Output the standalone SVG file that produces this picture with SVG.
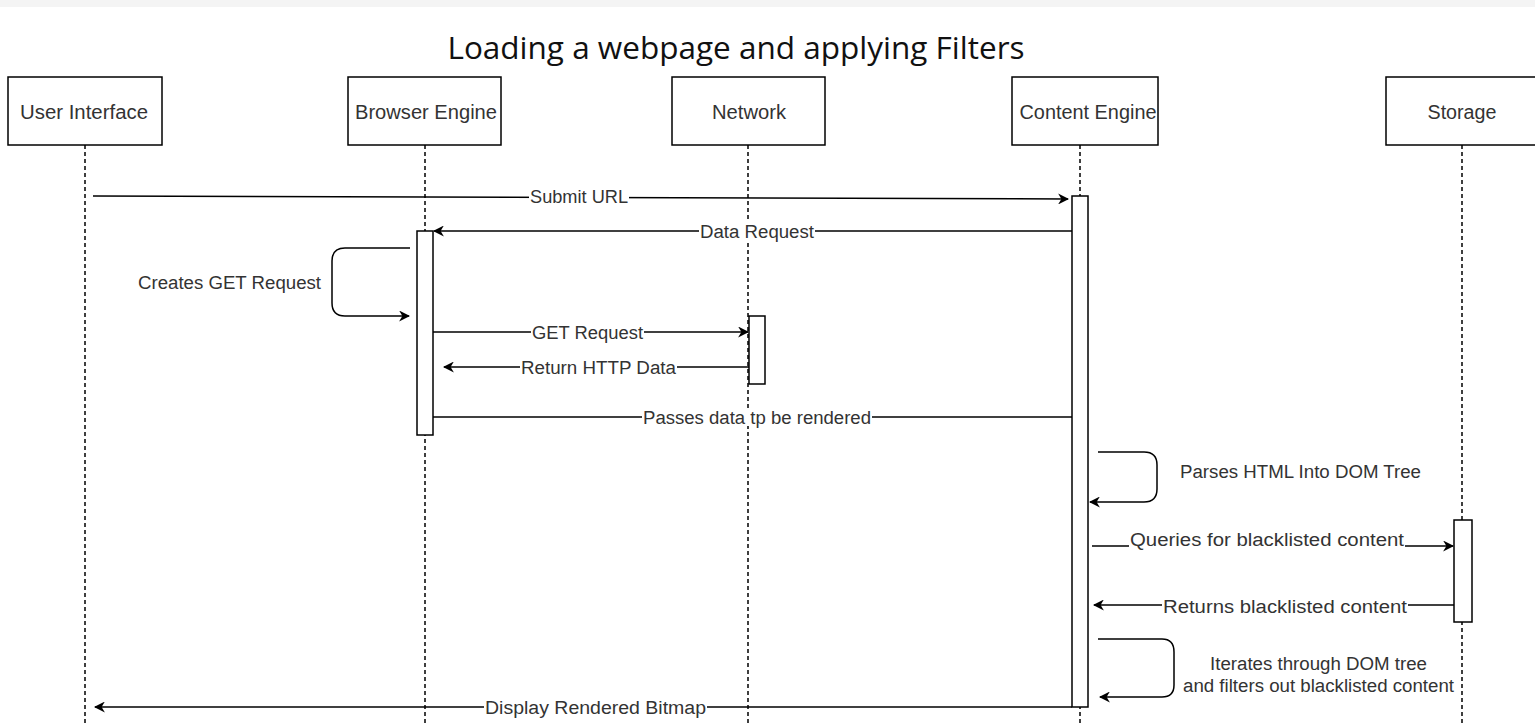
<svg xmlns="http://www.w3.org/2000/svg" width="1535" height="723" viewBox="0 0 1535 723">
<defs>
<style>
.box{fill:#fff;stroke:#000;stroke-width:1.5}
.act{fill:#fff;stroke:#000;stroke-width:1.5}
.life{stroke:#000;stroke-width:1.5;stroke-dasharray:4 3;fill:none}
.msg{stroke:#000;stroke-width:1.5;fill:none}
.lbl{font-family:"Liberation Sans",Arial,sans-serif;font-size:18px;fill:#333}
.hd{font-family:"Liberation Sans",Arial,sans-serif;font-size:20px;fill:#333;text-anchor:middle}
.bg{fill:#fff}
</style>
<marker id="ah" viewBox="0 0 10 10" refX="9" refY="5" markerWidth="11" markerHeight="11" markerUnits="userSpaceOnUse" orient="auto">
<path d="M0,0 L10,5 L0,10 L3,5 Z" fill="#000"/>
</marker>
</defs>
<rect width="1535" height="723" fill="#fff"/>
<rect width="1535" height="7" fill="#f4f4f4"/>
<text x="736" y="59" font-family="'Open Sans','Noto Sans',sans-serif" font-size="31.5" fill="#111" text-anchor="middle">Loading a webpage and applying Filters</text>

<g id="lifelines">
<line class="life" x1="85" y1="145" x2="85" y2="723"/>
<line class="life" x1="425" y1="145" x2="425" y2="723"/>
<line class="life" x1="748" y1="145" x2="748" y2="723"/>
<line class="life" x1="1080" y1="145" x2="1080" y2="723"/>
<line class="life" x1="1462" y1="145" x2="1462" y2="723"/>
</g>

<g id="ui"><rect class="box" x="8" y="77" width="154" height="68"/><text class="hd" x="84" y="119" textLength="128" lengthAdjust="spacingAndGlyphs">User Interface</text></g>
<g id="browser"><rect class="box" x="348" y="77" width="153" height="68"/><text class="hd" x="426" y="119" textLength="142" lengthAdjust="spacingAndGlyphs">Browser Engine</text></g>
<g id="network"><rect class="box" x="672" y="77" width="153" height="68"/><text class="hd" x="749" y="119" textLength="74" lengthAdjust="spacingAndGlyphs">Network</text></g>
<g id="content"><rect class="box" x="1012" y="77" width="146" height="68"/><text class="hd" x="1088" y="119" textLength="137" lengthAdjust="spacingAndGlyphs">Content Engine</text></g>
<g id="storage"><rect class="box" x="1386" y="77" width="152" height="68"/><text class="hd" x="1462" y="119" textLength="69" lengthAdjust="spacingAndGlyphs">Storage</text></g>

<g id="activations">
<rect class="act" x="417" y="231" width="16" height="204"/>
<rect class="act" x="749" y="316" width="16" height="68"/>
<rect class="act" x="1072" y="196" width="16" height="511"/>
<rect class="act" x="1454" y="520" width="18" height="102"/>
</g>

<g id="connectors">
<line class="msg" x1="93" y1="196" x2="1068" y2="199" marker-end="url(#ah)"/>
<line class="msg" x1="1072" y1="231" x2="434" y2="231" marker-end="url(#ah)"/>
<path class="msg" d="M410,248 H345 Q332,248 332,261 V303 Q332,316 345,316 H409" marker-end="url(#ah)"/>
<line class="msg" x1="433" y1="332" x2="748" y2="332" marker-end="url(#ah)"/>
<line class="msg" x1="749" y1="367" x2="444" y2="367" marker-end="url(#ah)"/>
<line class="msg" x1="433" y1="417" x2="1072" y2="417"/>
<path class="msg" d="M1098,452 H1144 Q1157,452 1157,465 V489 Q1157,502 1144,502 H1090" marker-end="url(#ah)"/>
<line class="msg" x1="1092" y1="546" x2="1453" y2="546" marker-end="url(#ah)"/>
<line class="msg" x1="1454" y1="605" x2="1094" y2="605" marker-end="url(#ah)"/>
<path class="msg" d="M1098,639 H1162 Q1174,639 1174,652 V685 Q1174,697 1162,697 H1100" marker-end="url(#ah)"/>
<line class="msg" x1="1072" y1="707" x2="95" y2="707" marker-end="url(#ah)"/>
</g>

<g id="labels">
<rect class="bg" x="529" y="188" width="100" height="18"/><text class="lbl" x="579" y="203" text-anchor="middle" textLength="98" lengthAdjust="spacingAndGlyphs">Submit URL</text>
<rect class="bg" x="699" y="222" width="116" height="18"/><text class="lbl" x="757" y="238" text-anchor="middle" textLength="114" lengthAdjust="spacingAndGlyphs">Data Request</text>
<text class="lbl" x="138" y="289" textLength="183" lengthAdjust="spacingAndGlyphs">Creates GET Request</text>
<rect class="bg" x="531" y="323" width="113" height="18"/><text class="lbl" x="587.5" y="339" text-anchor="middle" textLength="111" lengthAdjust="spacingAndGlyphs">GET Request</text>
<rect class="bg" x="520" y="358" width="157" height="18"/><text class="lbl" x="598.5" y="374" text-anchor="middle" textLength="155" lengthAdjust="spacingAndGlyphs">Return HTTP Data</text>
<rect class="bg" x="642" y="408" width="230" height="18"/><text class="lbl" x="757" y="424" text-anchor="middle" textLength="228" lengthAdjust="spacingAndGlyphs">Passes data tp be rendered</text>
<text class="lbl" x="1180" y="478" textLength="241" lengthAdjust="spacingAndGlyphs">Parses HTML Into DOM Tree</text>
<rect class="bg" x="1129" y="530" width="276" height="18"/><text class="lbl" x="1267" y="546" text-anchor="middle" textLength="274" lengthAdjust="spacingAndGlyphs">Queries for blacklisted content</text>
<rect class="bg" x="1162" y="597" width="246" height="18"/><text class="lbl" x="1285" y="613" text-anchor="middle" textLength="244" lengthAdjust="spacingAndGlyphs">Returns blacklisted content</text>
<text class="lbl" x="1318.5" y="670" text-anchor="middle" textLength="217" lengthAdjust="spacingAndGlyphs">Iterates through DOM tree</text>
<text class="lbl" x="1318.5" y="692" text-anchor="middle" textLength="271" lengthAdjust="spacingAndGlyphs">and filters out blacklisted content</text>
<rect class="bg" x="484" y="699" width="223" height="18"/><text class="lbl" x="595.5" y="714" text-anchor="middle" textLength="221" lengthAdjust="spacingAndGlyphs">Display Rendered Bitmap</text>
</g>
</svg>
